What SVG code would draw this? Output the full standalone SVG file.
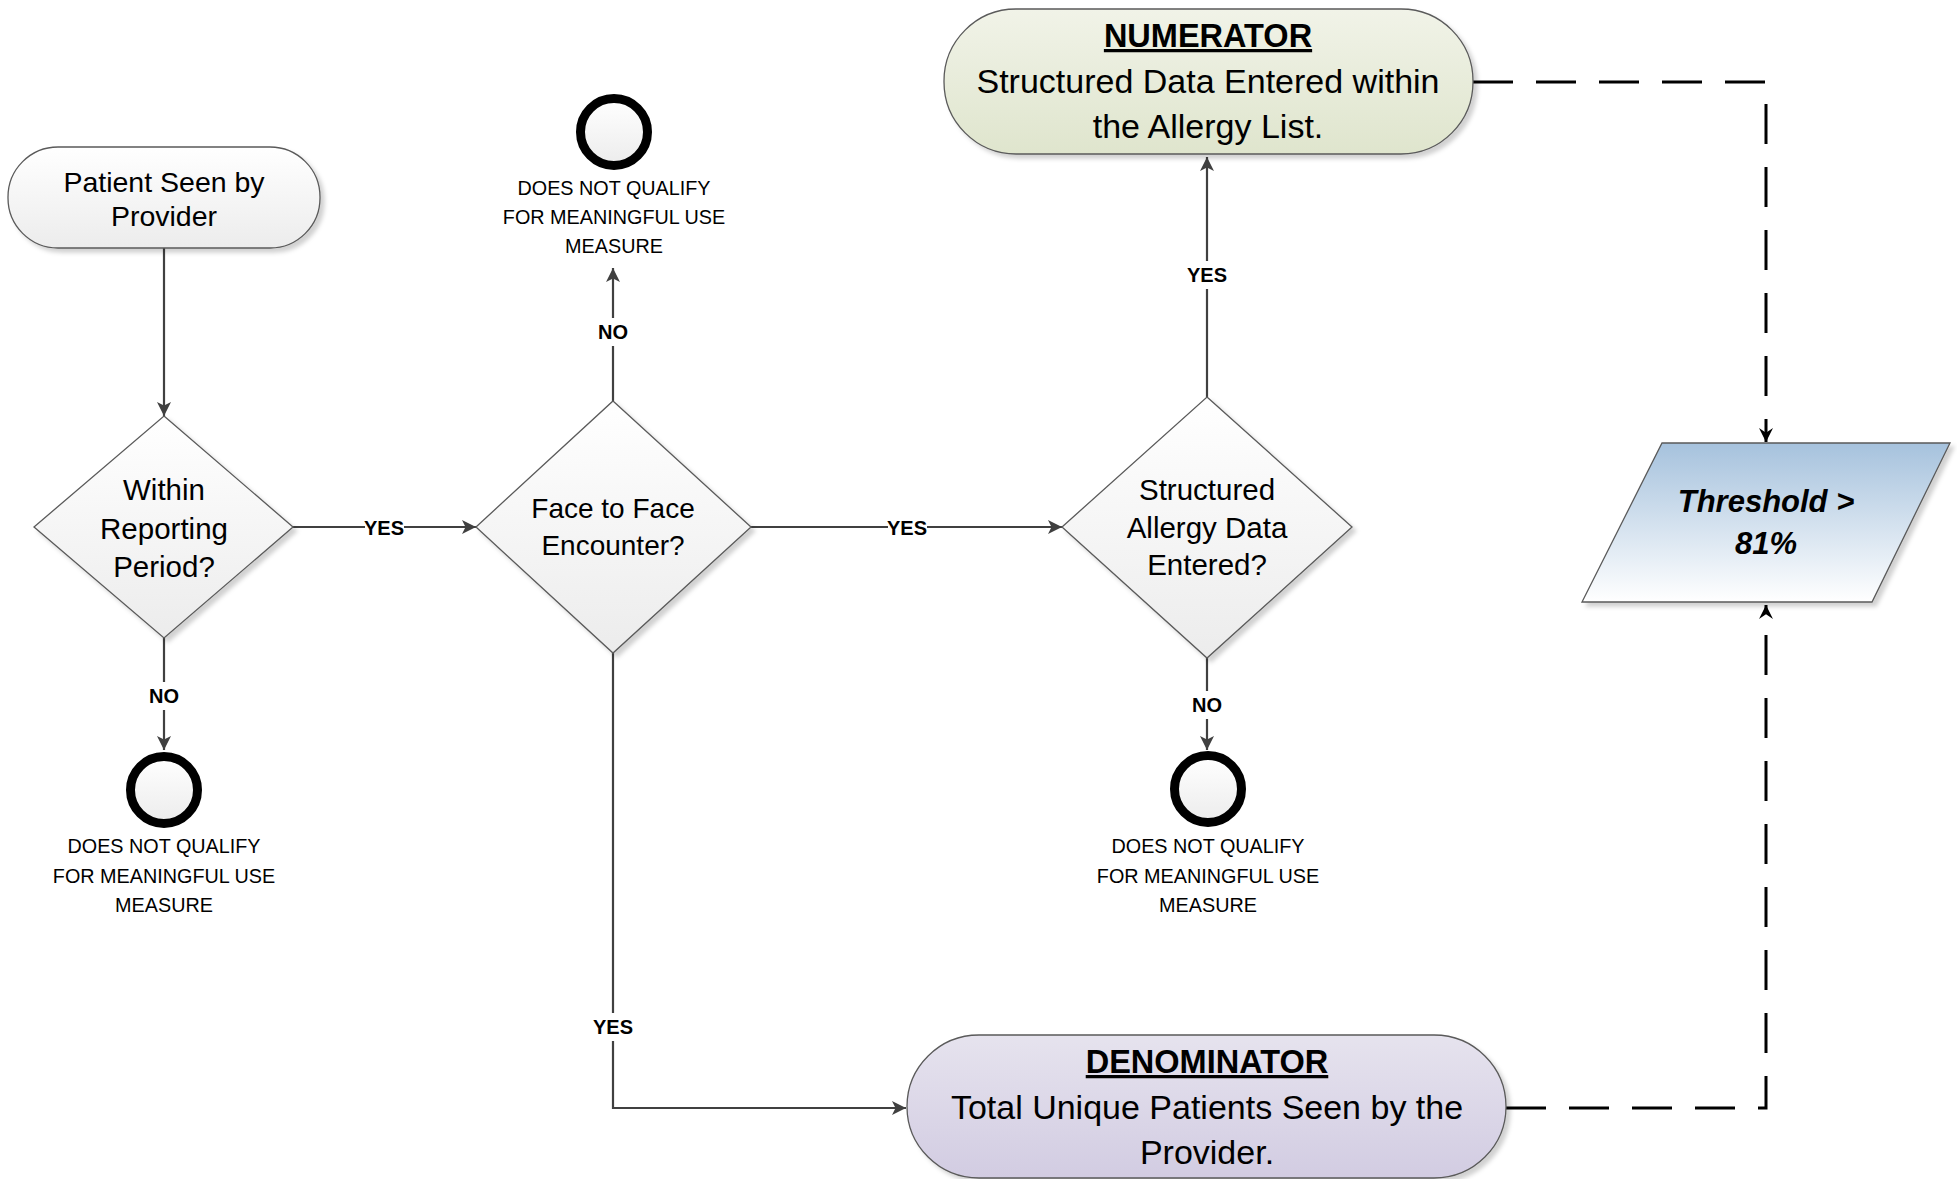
<svg xmlns="http://www.w3.org/2000/svg" width="1957" height="1179" viewBox="0 0 1957 1179">
<defs>
<linearGradient id="gGray" x1="0" y1="0" x2="0" y2="1"><stop offset="0" stop-color="#ffffff"/><stop offset="1" stop-color="#ececec"/></linearGradient>
<linearGradient id="gGreen" x1="0" y1="0" x2="0" y2="1"><stop offset="0" stop-color="#f1f3e8"/><stop offset="1" stop-color="#dfe5cd"/></linearGradient>
<linearGradient id="gPurple" x1="0" y1="0" x2="0" y2="1"><stop offset="0" stop-color="#e6e3ee"/><stop offset="1" stop-color="#d2cce2"/></linearGradient>
<linearGradient id="gBlue" x1="0" y1="0" x2="0" y2="1"><stop offset="0" stop-color="#a6c2dd"/><stop offset="1" stop-color="#ffffff"/></linearGradient>
<filter id="shadow" x="-10%" y="-10%" width="130%" height="130%"><feDropShadow dx="4" dy="4" stdDeviation="2" flood-color="#000" flood-opacity="0.18"/></filter>
<marker id="arr" viewBox="0 0 12 12" refX="12" refY="6" markerWidth="14" markerHeight="14" markerUnits="userSpaceOnUse" orient="auto"><path d="M0,0 L12,6 L0,12 L3,6 Z" fill="#404040"/></marker>
<marker id="arrD" viewBox="0 0 12 12" refX="12" refY="6" markerWidth="14" markerHeight="14" markerUnits="userSpaceOnUse" orient="auto"><path d="M0,0 L12,6 L0,12 L4,6 Z" fill="#000"/></marker>
<style>
.shape{stroke:#5a5a5a;stroke-width:1.3}
.t{font-family:"Liberation Sans",Arial,sans-serif;font-size:28.5px;fill:#000;text-anchor:middle}
.big{font-size:29.5px}
.face{font-size:28px}
.body{font-size:34px}
.hd{font-size:32.5px;font-weight:bold;text-decoration:underline}
.lbl{font-family:"Liberation Sans",Arial,sans-serif;font-size:20px;font-weight:bold;fill:#000;text-anchor:middle}
.sm{font-family:"Liberation Sans",Arial,sans-serif;font-size:19.8px;fill:#000;text-anchor:middle}
.thr{font-family:"Liberation Sans",Arial,sans-serif;font-size:31px;font-weight:bold;font-style:italic;fill:#000;text-anchor:middle}
.conn{fill:none;stroke:#404040;stroke-width:2.2}
.dash{fill:none;stroke:#000;stroke-width:3;stroke-dasharray:40 23}
.end{fill:url(#gGray);stroke:#000;stroke-width:9}
.bg{fill:#fff}
</style>
</defs>
<rect width="1957" height="1179" fill="#fff"/>

<g id="connectors">
<path class="conn" d="M164,248 V416" marker-end="url(#arr)"/>
<path class="conn" d="M293,527 H476" marker-end="url(#arr)"/>
<path class="conn" d="M751,527 H1062" marker-end="url(#arr)"/>
<path class="conn" d="M613,401 V268" marker-end="url(#arr)"/>
<path class="conn" d="M1207,397 V157" marker-end="url(#arr)"/>
<path class="conn" d="M164,638 V750" marker-end="url(#arr)"/>
<path class="conn" d="M1207,658 V750" marker-end="url(#arr)"/>
<path class="conn" d="M613,653 V1108 H906" marker-end="url(#arr)"/>
<path class="dash" d="M1473,82 H1766 V442" marker-end="url(#arrD)"/>
<path class="dash" d="M1506,1108 H1766 V605" marker-end="url(#arrD)"/>
<rect class="bg" x="365" y="517" width="39" height="22"/>
<text class="lbl" x="384" y="535">YES</text>
<rect class="bg" x="888" y="517" width="39" height="22"/>
<text class="lbl" x="907" y="535">YES</text>
<rect class="bg" x="593" y="318" width="40" height="28"/>
<text class="lbl" x="613" y="339">NO</text>
<rect class="bg" x="1187" y="261" width="40" height="28"/>
<text class="lbl" x="1207" y="282">YES</text>
<rect class="bg" x="144" y="682" width="40" height="28"/>
<text class="lbl" x="164" y="703">NO</text>
<rect class="bg" x="1187" y="691" width="40" height="28"/>
<text class="lbl" x="1207" y="712">NO</text>
<rect class="bg" x="593" y="1013" width="40" height="28"/>
<text class="lbl" x="613" y="1034">YES</text>
</g>

<g id="start">
<rect class="shape" x="8" y="147" width="312" height="101" rx="50" ry="50" fill="url(#gGray)" filter="url(#shadow)"/>
<text class="t" x="164" y="192">Patient Seen by</text>
<text class="t" x="164" y="226">Provider</text>
</g>

<g id="reporting">
<polygon class="shape" points="164,416 293,527 164,638 34,527" fill="url(#gGray)" filter="url(#shadow)"/>
<text class="t big" x="164" y="500">Within</text>
<text class="t big" x="164" y="539">Reporting</text>
<text class="t big" x="164" y="577">Period?</text>
</g>

<g id="face">
<polygon class="shape" points="613,401 751,527 613,653 476,527" fill="url(#gGray)" filter="url(#shadow)"/>
<text class="t face" x="613" y="518">Face to Face</text>
<text class="t face" x="613" y="555">Encounter?</text>
</g>

<g id="allergy">
<polygon class="shape" points="1207,397 1352,527 1207,658 1062,527" fill="url(#gGray)" filter="url(#shadow)"/>
<text class="t big" x="1207" y="500">Structured</text>
<text class="t big" x="1207" y="538">Allergy Data</text>
<text class="t big" x="1207" y="575">Entered?</text>
</g>

<g id="end1">
<circle class="end" cx="614" cy="132" r="33.5"/>
<text class="sm" x="614" y="195">DOES NOT QUALIFY</text>
<text class="sm" x="614" y="224">FOR MEANINGFUL USE</text>
<text class="sm" x="614" y="253">MEASURE</text>
</g>

<g id="end2">
<circle class="end" cx="164" cy="790" r="33.5"/>
<text class="sm" x="164" y="853">DOES NOT QUALIFY</text>
<text class="sm" x="164" y="883">FOR MEANINGFUL USE</text>
<text class="sm" x="164" y="912">MEASURE</text>
</g>

<g id="end3">
<circle class="end" cx="1208" cy="789" r="33.5"/>
<text class="sm" x="1208" y="853">DOES NOT QUALIFY</text>
<text class="sm" x="1208" y="883">FOR MEANINGFUL USE</text>
<text class="sm" x="1208" y="912">MEASURE</text>
</g>

<g id="numerator">
<rect class="shape" x="944" y="9" width="529" height="145" rx="72" ry="72" fill="url(#gGreen)" filter="url(#shadow)"/>
<text class="t hd" x="1208" y="47">NUMERATOR</text>
<text class="t body" x="1208" y="93">Structured Data Entered within</text>
<text class="t body" x="1208" y="138">the Allergy List.</text>
</g>

<g id="denominator">
<rect class="shape" x="907" y="1035" width="599" height="143" rx="72" ry="72" fill="url(#gPurple)" filter="url(#shadow)"/>
<text class="t hd" x="1207" y="1073">DENOMINATOR</text>
<text class="t body" x="1207" y="1119">Total Unique Patients Seen by the</text>
<text class="t body" x="1207" y="1164">Provider.</text>
</g>

<g id="threshold">
<polygon class="shape" points="1662,443 1950,443 1872,602 1582,602" fill="url(#gBlue)" filter="url(#shadow)"/>
<text class="thr" x="1766" y="512">Threshold &gt;</text>
<text class="thr" x="1766" y="554">81%</text>
</g>
</svg>
